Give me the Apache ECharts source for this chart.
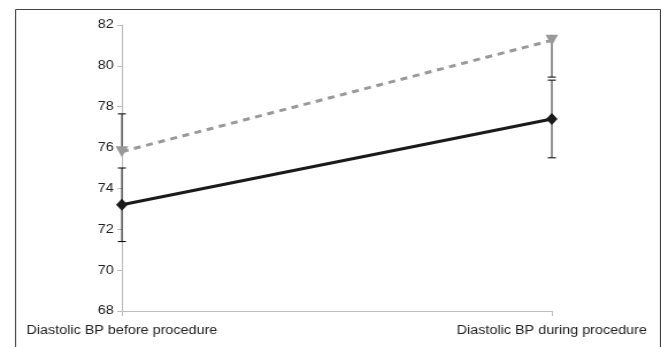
<!DOCTYPE html>
<html>
<head>
<meta charset="utf-8">
<script src="https://cdn.jsdelivr.net/npm/echarts@6/dist/echarts.min.js"></script>
<style>
html,body{margin:0;padding:0;background:#fff;overflow:hidden}
#c{width:575px;height:347px;transform:scaleX(1.1496);transform-origin:0 0}
</style>
</head>
<body>
<div id="c"></div>
<script>
const categories = ['Diastolic BP before procedure', 'Diastolic BP during procedure'];
const yTicks = [68, 70, 72, 74, 76, 78, 80, 82];
const series1 = [73.2, 77.4];
const series1Low = [71.4, 75.5];
const series1High = [75.0, 79.3];
const series2 = [75.8, 81.25];
const series2Low = [75.8, 79.45];
const series2High = [77.65, 81.25];

function errData(vals, lows, highs) {
  return vals.map((v, i) => [i, v, lows[i], highs[i]]);
}
function errRender(params, api) {
  const x = api.value(0), v = api.value(1), lo = api.value(2), hi = api.value(3);
  const pLo = api.coord([x, lo]), pHi = api.coord([x, hi]);
  const cw = 3.5;
  const st = { stroke: '#111', lineWidth: 0.9 };
  const children = [{ type: 'line', shape: { x1: pLo[0], y1: pLo[1], x2: pHi[0], y2: pHi[1] }, style: st }];
  if (lo !== v) children.push({ type: 'line', shape: { x1: pLo[0] - cw, y1: pLo[1], x2: pLo[0] + cw, y2: pLo[1] }, style: { stroke: '#111', lineWidth: 1.1 } });
  if (hi !== v) children.push({ type: 'line', shape: { x1: pHi[0] - cw, y1: pHi[1], x2: pHi[0] + cw, y2: pHi[1] }, style: { stroke: '#111', lineWidth: 1.1 } });
  return { type: 'group', children };
}

const chart = echarts.init(document.getElementById('c'), null, { renderer: 'canvas', width: 575, height: 347 });
chart.setOption({
  animation: false,
  textStyle: { fontFamily: 'Liberation Sans, Arial, sans-serif' },
  graphic: [{
    type: 'rect', left: 11, top: 7, z: -10,
    shape: { width: 561, height: 360 },
    style: { fill: 'none', stroke: '#444', lineWidth: 1 }
  }],
  grid: { left: 106, right: 95, top: 25, bottom: 36, containLabel: false },
  xAxis: {
    type: 'category', data: categories, boundaryGap: false,
    axisLine: { lineStyle: { color: '#bdbdbd', width: 1 } },
    axisTick: { show: true, length: 5, lineStyle: { color: '#bdbdbd' } },
    axisLabel: { color: '#222', fontSize: 12.5, margin: 13, interval: 0 },
    splitLine: { show: false }
  },
  yAxis: {
    type: 'value', min: yTicks[0], max: yTicks[yTicks.length - 1], interval: 2,
    axisLine: { show: true, lineStyle: { color: '#bdbdbd', width: 1 } },
    axisTick: { show: true, length: 4, lineStyle: { color: '#bdbdbd' } },
    axisLabel: { color: '#222', fontSize: 12.5, margin: 7 },
    splitLine: { show: false }
  },
  series: [
    {
      type: 'custom', renderItem: errRender, data: errData(series1, series1Low, series1High),
      encode: { x: 0, y: [1, 2, 3] }, z: 1, clip: false
    },
    {
      type: 'custom', renderItem: errRender, data: errData(series2, series2Low, series2High),
      encode: { x: 0, y: [1, 2, 3] }, z: 1, clip: false
    },
    {
      name: 'during', type: 'line', data: series2, z: 3,
      lineStyle: { color: '#999', width: 3, type: [6, 5] },
      symbol: 'triangle', symbolRotate: 180, symbolSize: [11, 11],
      itemStyle: { color: '#999' }
    },
    {
      name: 'before', type: 'line', data: series1, z: 4,
      lineStyle: { color: '#1a1a1a', width: 3 },
      symbol: 'diamond', symbolSize: [10, 12],
      itemStyle: { color: '#1a1a1a' }
    }
  ]
});
</script>
</body>
</html>
